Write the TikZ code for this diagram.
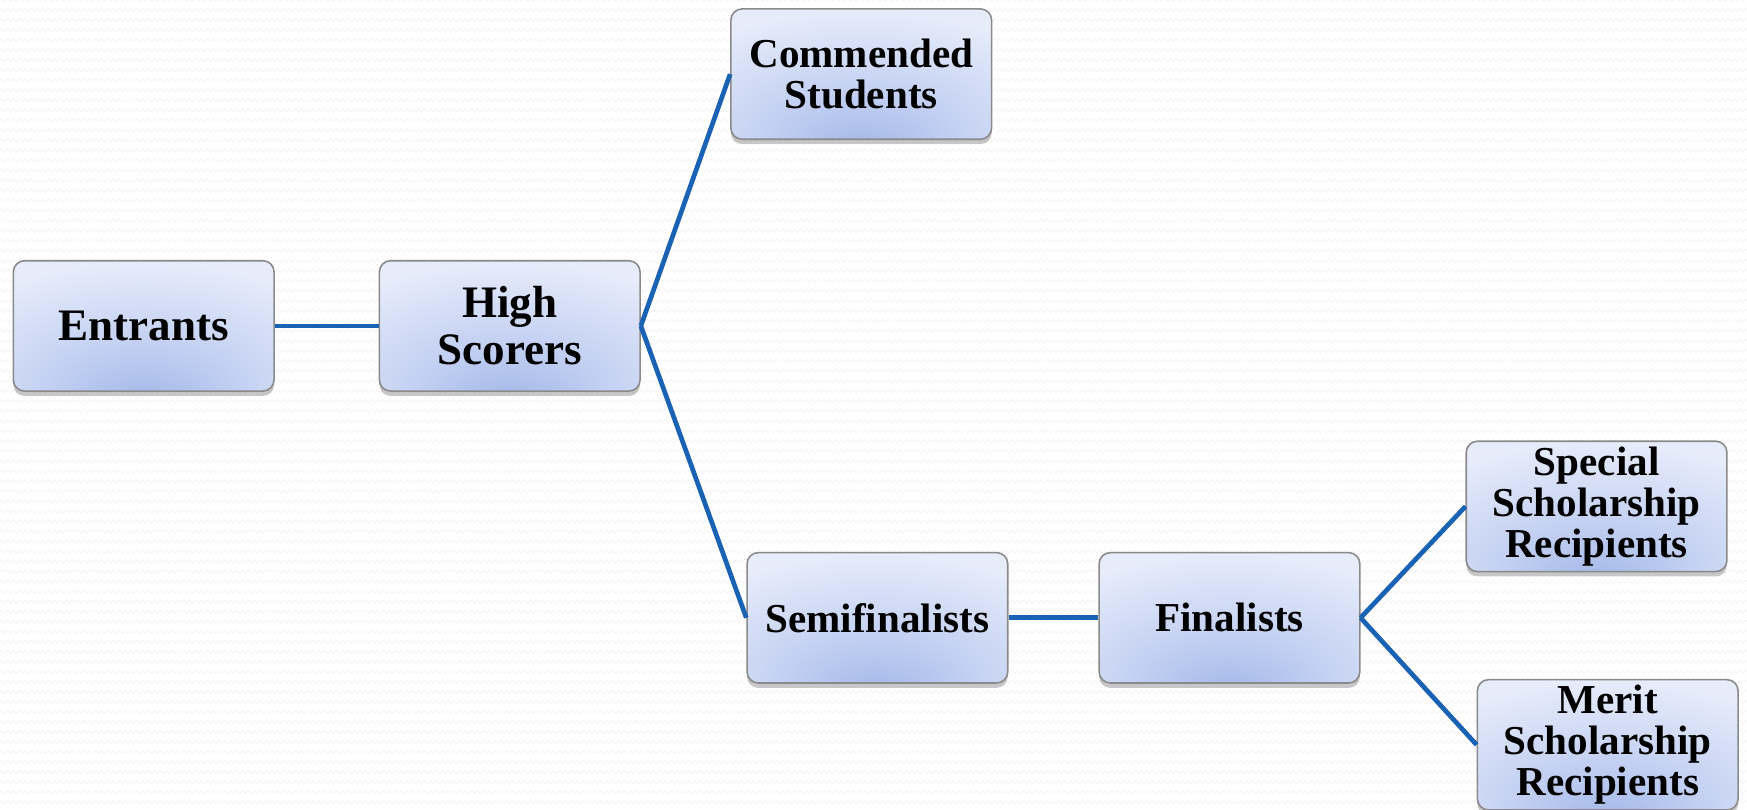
\documentclass[tikz,border=0pt]{standalone}
\usepackage{fontspec}
\setmainfont{Liberation Serif}
\usetikzlibrary{shadows,decorations.pathmorphing}
\definecolor{edgeblue}{HTML}{1A62B4}
\definecolor{boxedge}{HTML}{8A8A8A}
\definecolor{shA}{HTML}{A2B7E8}
\definecolor{shB}{HTML}{C3D0F2}
\definecolor{shC}{HTML}{E6ECFA}
\pgfdeclareradialshading{boxshade}{\pgfpoint{0bp}{-30bp}}{color(0bp)=(shA); color(18bp)=(shB); color(42bp)=(shC); color(100bp)=(shC)}
\tikzset{
  stagebox/.style={draw=boxedge, line width=0.8pt, rounded corners=0.2cm, shade, shading=boxshade,
    minimum width=4.68cm, minimum height=2.34cm, align=center, inner sep=2pt,
    font=\bfseries\fontsize{21}{21}\selectfont,
    drop shadow={shadow xshift=0pt, shadow yshift=-2.5pt, fill=black, opacity=0.22}},
  bigtext/.style={font=\bfseries\fontsize{23}{24}\selectfont},
  conn/.style={draw=edgeblue, line width=2.4pt},
  bgline/.style={draw=gray!8, line width=0.4pt, decorate, decoration={zigzag, segment length=3pt, amplitude=0.8pt}}
}
\begin{document}
\begin{tikzpicture}[x=0.02cm, y=-0.02cm]
\useasboundingbox (0,0) rectangle (1568,727);
\fill[white] (0,0) rectangle (1568,727);
\begin{scope}
\clip (0,0) rectangle (1568,727);
\foreach \r in {0,...,81} {\draw[bgline] (-5,\r*9) -- (1575,\r*9);}
\end{scope}
\node[stagebox, bigtext] (ent) at (129,292.5) {Entrants};
\node[stagebox, bigtext] (hs) at (457.5,292.5) {High\\Scorers};
\node[stagebox] (com) at (773,66.5) {Commended\\Students};
\node[stagebox] (semi) at (787.5,554.5) {Semifinalists};
\node[stagebox] (fin) at (1103.5,554.5) {Finalists};
\node[stagebox] (spec) at (1433,454.5) {Special\\Scholarship\\Recipients};
\node[stagebox] (mer) at (1443,668.5) {Merit\\Scholarship\\Recipients};
\draw[conn] (ent.east) -- (hs.west);
\draw[conn] (hs.east) -- (com.west);
\draw[conn] (hs.east) -- (semi.west);
\draw[conn] (semi.east) -- (fin.west);
\draw[conn] (fin.east) -- (spec.west);
\draw[conn] (fin.east) -- (mer.west);
\end{tikzpicture}
\end{document}
